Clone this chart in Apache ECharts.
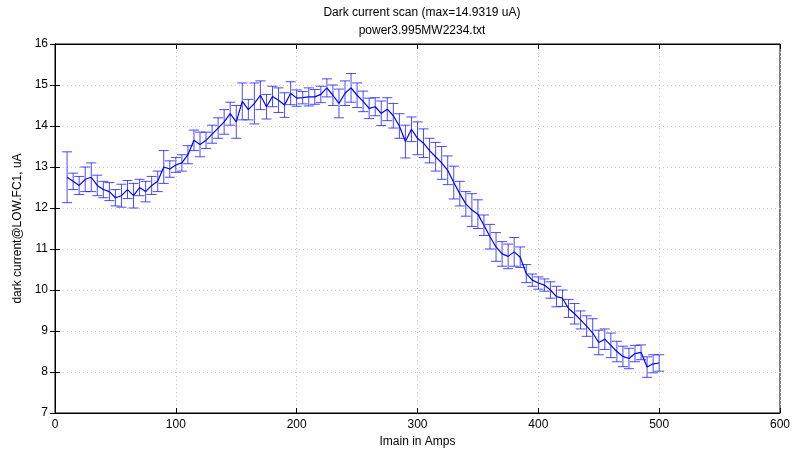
<!DOCTYPE html>
<html>
<head>
<meta charset="utf-8">
<script src="https://cdn.jsdelivr.net/npm/echarts@6/dist/echarts.min.js"></script>
<style>
html,body{margin:0;padding:0;background:#fff;}
#chart{width:807px;height:462px;}
</style>
</head>
<body>
<div id="chart"></div>
<script>
const imain = [10,15,20,25,30,35,40,45,50,55,60,65,70,75,80,85,90,95,100,105,110,115,120,125,130,135,140,145,150,155,160,165,170,175,180,185,190,195,200,205,210,215,220,225,230,235,240,245,250,255,260,265,270,275,280,285,290,295,300,305,310,315,320,325,330,335,340,345,350,355,360,365,370,375,380,385,390,395,400,405,410,415,420,425,430,435,440,445,450,455,460,465,470,475,480,485,490,495,500];
const current = [12.75,12.65,12.55,12.70,12.75,12.55,12.45,12.40,12.25,12.30,12.45,12.30,12.50,12.40,12.55,12.65,13.00,12.95,13.05,13.10,13.30,13.65,13.55,13.65,13.80,13.95,14.10,14.30,14.10,14.60,14.40,14.55,14.75,14.47,14.72,14.63,14.51,14.80,14.68,14.69,14.71,14.71,14.77,14.93,14.75,14.55,14.80,14.93,14.75,14.60,14.43,14.47,14.31,14.41,14.25,14.00,13.62,13.92,13.70,13.58,13.40,13.25,13.10,12.92,12.62,12.35,12.10,11.95,11.85,11.58,11.30,11.05,10.88,10.82,10.93,10.80,10.40,10.24,10.17,10.12,10.00,9.84,9.80,9.55,9.42,9.27,9.12,8.95,8.72,8.80,8.65,8.50,8.38,8.33,8.45,8.48,8.12,8.20,8.22];
const errHalf = [0.62,0.20,0.22,0.30,0.35,0.25,0.20,0.22,0.20,0.28,0.22,0.30,0.20,0.25,0.22,0.25,0.40,0.20,0.18,0.20,0.22,0.25,0.30,0.20,0.22,0.25,0.30,0.28,0.40,0.45,0.25,0.50,0.35,0.30,0.25,0.30,0.30,0.28,0.20,0.15,0.22,0.18,0.20,0.22,0.25,0.35,0.30,0.35,0.30,0.25,0.25,0.22,0.30,0.28,0.30,0.30,0.40,0.30,0.40,0.35,0.30,0.35,0.40,0.35,0.40,0.30,0.30,0.40,0.35,0.25,0.30,0.35,0.30,0.30,0.35,0.25,0.22,0.15,0.15,0.15,0.20,0.25,0.20,0.22,0.25,0.22,0.25,0.35,0.30,0.25,0.30,0.25,0.25,0.25,0.20,0.18,0.25,0.22,0.20];
const xTicks = [0,100,200,300,400,500,600];
const yTicks = [7,8,9,10,11,12,13,14,15,16];

const lineData = imain.map((x,i)=>[x,current[i]]);
const errData = imain.map((x,i)=>[x,current[i]-errHalf[i],current[i]+errHalf[i]]);

const chart = echarts.init(document.getElementById('chart'), null, {renderer:'canvas'});
const font = 'Liberation Sans, Arial, sans-serif';
const blue = '#0000ff';
const errColor = 'rgba(30,30,255,0.8)';

function renderErr(params, api){
  const x = api.value(0), lo = api.value(1), hi = api.value(2);
  const pLo = api.coord([x, lo]);
  const pHi = api.coord([x, hi]);
  const w = 5;
  const st = {stroke: errColor, lineWidth: 1};
  return {type:'group', children:[
    {type:'line', shape:{x1:pLo[0],y1:pLo[1],x2:pHi[0],y2:pHi[1]}, style:st},
    {type:'line', shape:{x1:pLo[0]-w,y1:pLo[1],x2:pLo[0]+w,y2:pLo[1]}, style:st},
    {type:'line', shape:{x1:pHi[0]-w,y1:pHi[1],x2:pHi[0]+w,y2:pHi[1]}, style:st}
  ]};
}

const option = {
  backgroundColor:'#fff',
  animation:false,
  title:[
    {text:'Dark current scan (max=14.9319 uA)', left:417, top:2, textAlign:'center',
     textStyle:{fontFamily:font, fontSize:12, fontWeight:'normal', color:'#000'}},
    {text:'power3.995MW2234.txt', left:417, top:20, textAlign:'center',
     textStyle:{fontFamily:font, fontSize:12, fontWeight:'normal', color:'#000'}}
  ],
  grid:{left:55, right:27, top:44, bottom:49, show:true, borderColor:'#000', borderWidth:1, backgroundColor:'#fff'},
  xAxis:[{
    type:'value', min:xTicks[0], max:xTicks[xTicks.length-1], interval:100,
    name:'Imain in Amps', nameLocation:'middle', nameGap:22,
    nameTextStyle:{fontFamily:font, fontSize:12, color:'#000'},
    axisLine:{show:true, lineStyle:{color:'#000'}},
    axisTick:{show:true, inside:true, length:5, lineStyle:{color:'#000'}},
    axisLabel:{fontFamily:font, fontSize:12, color:'#000', margin:6},
    splitLine:{show:true, lineStyle:{color:'#c8c8c8', type:[1,3], width:1}}
  },{
    type:'value', position:'top', min:xTicks[0], max:xTicks[xTicks.length-1], interval:100,
    axisLine:{show:true, lineStyle:{color:'#000'}},
    axisTick:{show:true, inside:true, length:5, lineStyle:{color:'#000'}},
    axisLabel:{show:false}, splitLine:{show:false}
  }],
  yAxis:[{
    type:'value', min:yTicks[0], max:yTicks[yTicks.length-1], interval:1,
    name:'dark current@LOW.FC1, uA', nameLocation:'middle', nameGap:24,
    nameTextStyle:{fontFamily:font, fontSize:12, color:'#000'},
    axisLine:{show:true, lineStyle:{color:'#000'}},
    axisTick:{show:true, inside:true, length:5, lineStyle:{color:'#000'}},
    axisLabel:{fontFamily:font, fontSize:12, color:'#000', margin:7},
    splitLine:{show:true, lineStyle:{color:'#c8c8c8', type:[1,3], width:1}}
  },{
    type:'value', position:'right', min:yTicks[0], max:yTicks[yTicks.length-1], interval:1,
    axisLine:{show:true, lineStyle:{color:'#000'}},
    axisTick:{show:true, inside:true, length:5, lineStyle:{color:'#000'}},
    axisLabel:{show:false}, splitLine:{show:false}
  }],
  series:[
    {type:'custom', name:'err', renderItem:renderErr, data:errData, encode:{x:0, y:[1,2]}, z:2, silent:true},
    {type:'line', name:'current', data:lineData, showSymbol:false, symbol:'none',
     lineStyle:{color:blue, width:1.2}, z:3, silent:true}
  ]
};
chart.setOption(option);
</script>
</body>
</html>
